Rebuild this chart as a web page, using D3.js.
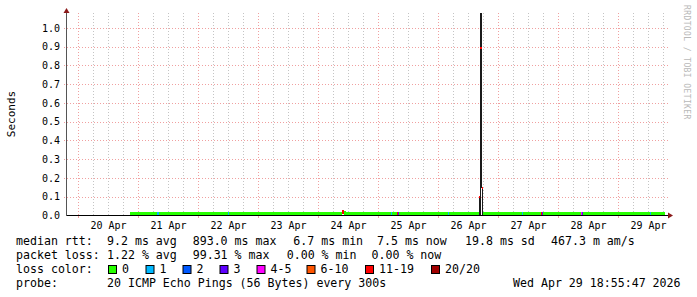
<!DOCTYPE html>
<html><head><meta charset="utf-8">
<script src="https://cdn.jsdelivr.net/npm/d3@7"></script>
<style>
body{margin:0;background:#fff}
text{font-family:"DejaVu Sans Mono",monospace;fill:#000}
</style></head>
<body><svg id="c" width="697" height="297"></svg>
<script>
// ---------------- data ----------------
const dayLabels = ["20 Apr","21 Apr","22 Apr","23 Apr","24 Apr","25 Apr","26 Apr","27 Apr","28 Apr","29 Apr"];
const dayNoons  = ["2026-04-20T12:00","2026-04-21T12:00","2026-04-22T12:00","2026-04-23T12:00","2026-04-24T12:00",
                   "2026-04-25T12:00","2026-04-26T12:00","2026-04-27T12:00","2026-04-28T12:00","2026-04-29T12:00"];
const yTicks = [0.0,0.1,0.2,0.3,0.4,0.5,0.6,0.7,0.8,0.9,1.0];

const lossLabels = ["0","1","2","3","4-5","6-10","11-19","20/20"];
const lossUpper  = [0,1,2,3,5,10,19,20];
const lossColors = ["#26ff00","#00b8ff","#0059ff","#5e00ff","#ff00ff","#ff5500","#ff0000","#a10000"];

// median rtt (seconds), each value holds from its time until the next time
const medTimes = ["2026-04-20T20:48","2026-04-21T07:36","2026-04-21T08:24","2026-04-22T12:00","2026-04-22T12:24",
  "2026-04-24T09:36","2026-04-24T10:24","2026-04-25T05:12","2026-04-25T05:36","2026-04-25T07:36","2026-04-25T08:00",
  "2026-04-25T08:24","2026-04-26T04:00","2026-04-26T04:24","2026-04-26T16:24","2026-04-26T16:48","2026-04-26T17:36",
  "2026-04-26T18:00","2026-04-27T09:28","2026-04-27T09:52","2026-04-27T17:04","2026-04-27T17:28","2026-04-27T17:52",
  "2026-04-28T09:04","2026-04-28T09:28","2026-04-28T09:52","2026-04-29T12:48","2026-04-29T13:12","2026-04-29T18:48"];
const medValues = [0.0088,0.0088,0.0088,0.0088,0.0088,
  0.024,0.0088,0.0088,0.0088,0.0095,0.0092,
  0.0088,0.0088,0.0088,0.100,0.893,0.147,
  0.0088,0.0088,0.0088,0.0095,0.0090,0.0088,
  0.0092,0.0090,0.0088,0.0088,0.0088,0.0088];
const medLoss = [0,1,0,1,0,
  15,0,1,0,12,3,
  0,1,0,15,15,15,
  0,1,0,12,3,0,
  5,3,0,1,0,0];

// smoke (ping spread), each bar is one 24-minute column
const smokeTimes = ["2026-04-24T09:36","2026-04-26T16:24","2026-04-26T16:48","2026-04-26T17:12","2026-04-26T17:36"];
const smokeLow   = [0.006, 0.0, 0.0, 0.147, 0.0];
const smokeHigh  = [0.016, 0.100, 1.2, 1.2, 0.147];

const legendRtt  = [["median rtt:",16],["9.2 ms avg",107],["893.0 ms max",192.7],["6.7 ms min",293.3],["7.5 ms now",377],["19.8 ms sd",465],["467.3 m am/s",551]];
const legendLoss = [["packet loss:",16],["1.22 % avg",107],["99.31 % max",192.7],["0.00 % min",286.7],["0.00 % now",371.5]];
const legendBoxX = [108,145.5,182.5,219.5,256.5,306.5,365,431];
const probeText  = ["probe:","20 ICMP Echo Pings (56 Bytes) every 300s","Wed Apr 29 18:55:47 2026"];

// ---------------- chart ----------------
const P = d3.utcParse("%Y-%m-%dT%H:%M");
const svg = d3.select("#c");
const x = d3.scaleUtc().domain([P("2026-04-19T19:36"), P("2026-04-29T19:36")]).range([67,667]);
const y = d3.scaleLinear().domain([0,1]).range([215.5,28]);
const plotTop = 13, plotLeft = 67, plotRight = 668;

// grid
const g = svg.append("g");
const hours = d3.utcHour.every(6).range(x.domain()[0], x.domain()[1]);
hours.filter(d => d.getUTCHours() !== 0).forEach(d => {
  const xx = Math.round(x(d)) + 0.5;
  g.append("line").attr("x1",xx).attr("x2",xx).attr("y1",plotTop).attr("y2",215)
    .attr("stroke","#c4c4c4").attr("stroke-dasharray","1,2");
});
d3.utcDay.range(x.domain()[0], x.domain()[1]).forEach(d => {
  const xx = Math.round(x(d)) + 0.5;
  g.append("line").attr("x1",xx).attr("x2",xx).attr("y1",plotTop).attr("y2",215)
    .attr("stroke","#f0a0a0").attr("stroke-dasharray","1,2");
  g.append("line").attr("x1",xx).attr("x2",xx).attr("y1",215).attr("y2",218).attr("stroke","#f0a0a0");
});
yTicks.filter(v => v > 0).forEach(v => {
  const yy = Math.round(y(v)) + 0.5;
  g.append("line").attr("x1",64).attr("x2",plotRight).attr("y1",yy).attr("y2",yy)
    .attr("stroke","#f0a0a0").attr("stroke-dasharray","1,2");
});

// clip
svg.append("clipPath").attr("id","pc").append("rect").attr("x",plotLeft).attr("y",plotTop).attr("width",plotRight-plotLeft).attr("height",215-plotTop);
const data = svg.append("g").attr("clip-path","url(#pc)");

// smoke
smokeTimes.forEach((t,i) => {
  const x0 = x(P(t));
  data.append("rect").attr("x",x0).attr("width",x(new Date(+P(t)+24*60000))-x0)
    .attr("y",y(smokeHigh[i])).attr("height",y(smokeLow[i])-y(smokeHigh[i]))
    .attr("fill", i===0 ? "#202020" : "#1a1a1a").attr("shape-rendering","crispEdges");
});

// median line coloured by loss
const colorOf = l => lossColors[lossUpper.findIndex(u => l <= u)];
const seg = d3.line().x(d => d[0]).y(d => d[1]);
for (let i = 0; i < medTimes.length - 1; i++) {
  const x0 = x(P(medTimes[i])), x1 = x(P(medTimes[i+1]));
  const y0 = y(medValues[i]);
  const big = medValues[i] > 0.05;
  data.append("path").attr("d", seg([[x0,y0],[x1,y0]])).attr("fill","none")
    .attr("stroke", colorOf(medLoss[i])).attr("stroke-width", big ? 2 : 3).attr("shape-rendering","crispEdges");
  if (i > 0) {
    const yp = y(medValues[i-1]);
    if (Math.abs(yp - y0) > 0.5 && Math.abs(yp - y0) < 10) {
      data.append("path").attr("d", seg([[x0+1,yp],[x0+1,y0]])).attr("fill","none")
        .attr("stroke", colorOf(medLoss[i])).attr("stroke-width",2).attr("shape-rendering","crispEdges");
    }
  }
}

// axes lines
svg.append("line").attr("x1",plotLeft).attr("x2",plotRight).attr("y1",215.5).attr("y2",215.5).attr("stroke","#000");
svg.append("line").attr("x1",66.5).attr("x2",66.5).attr("y1",12).attr("y2",216).attr("stroke","#555");
svg.append("path").attr("d","M668,212.5L673,215.5L668,218.5Z").attr("fill","#8b1a1a");
svg.append("path").attr("d","M63.5,13L66.5,8L69.5,13Z").attr("fill","#8b1a1a");

// x tick labels
const xa = svg.append("g").attr("transform","translate(0,219)")
  .call(d3.axisBottom(x).tickValues(dayNoons.map(P)).tickFormat((d,i) => dayLabels[i]).tickSize(0));
xa.select(".domain").remove();
xa.selectAll("text").attr("font-size","10px").attr("font-family","DejaVu Sans Mono").attr("fill","#000").attr("dy","0.71em");

// y tick labels
const ya = svg.append("g").attr("transform","translate(60,0)")
  .call(d3.axisLeft(y).tickValues(yTicks).tickFormat(d3.format(".1f")).tickSize(0).tickPadding(0));
ya.select(".domain").remove();
ya.selectAll("text").attr("font-size","10px").attr("font-family","DejaVu Sans Mono").attr("fill","#000");

// y title
svg.append("text").attr("transform","translate(15,114) rotate(-90)").attr("text-anchor","middle")
  .attr("font-size","11px").text("Seconds");

// watermark
svg.append("text").attr("transform","translate(684,5) rotate(90)").attr("font-size","8px")
  .attr("letter-spacing","0.4").style("fill","#b8b8b8").text("RRDTOOL / TOBI OETIKER");

// legend
const fs = "11.6px";
legendRtt.forEach(([t,xx]) => svg.append("text").attr("x",xx).attr("y",245).attr("font-size",fs).style("white-space","pre").text(t));
legendLoss.forEach(([t,xx]) => svg.append("text").attr("x",xx).attr("y",259).attr("font-size",fs).style("white-space","pre").text(t));
svg.append("text").attr("x",16).attr("y",273).attr("font-size",fs).text("loss color:");
lossLabels.forEach((l,i) => {
  svg.append("rect").attr("x",legendBoxX[i]+0.5).attr("y",265.5).attr("width",8).attr("height",8)
    .attr("fill",lossColors[i]).attr("stroke","#000");
  svg.append("text").attr("x",legendBoxX[i]+14).attr("y",273).attr("font-size",fs).text(l);
});
svg.append("text").attr("x",16).attr("y",287).attr("font-size",fs).text(probeText[0]);
svg.append("text").attr("x",107).attr("y",287).attr("font-size",fs).text(probeText[1]);
svg.append("text").attr("x",513).attr("y",287).attr("font-size",fs).text(probeText[2]);
</script></body></html>
